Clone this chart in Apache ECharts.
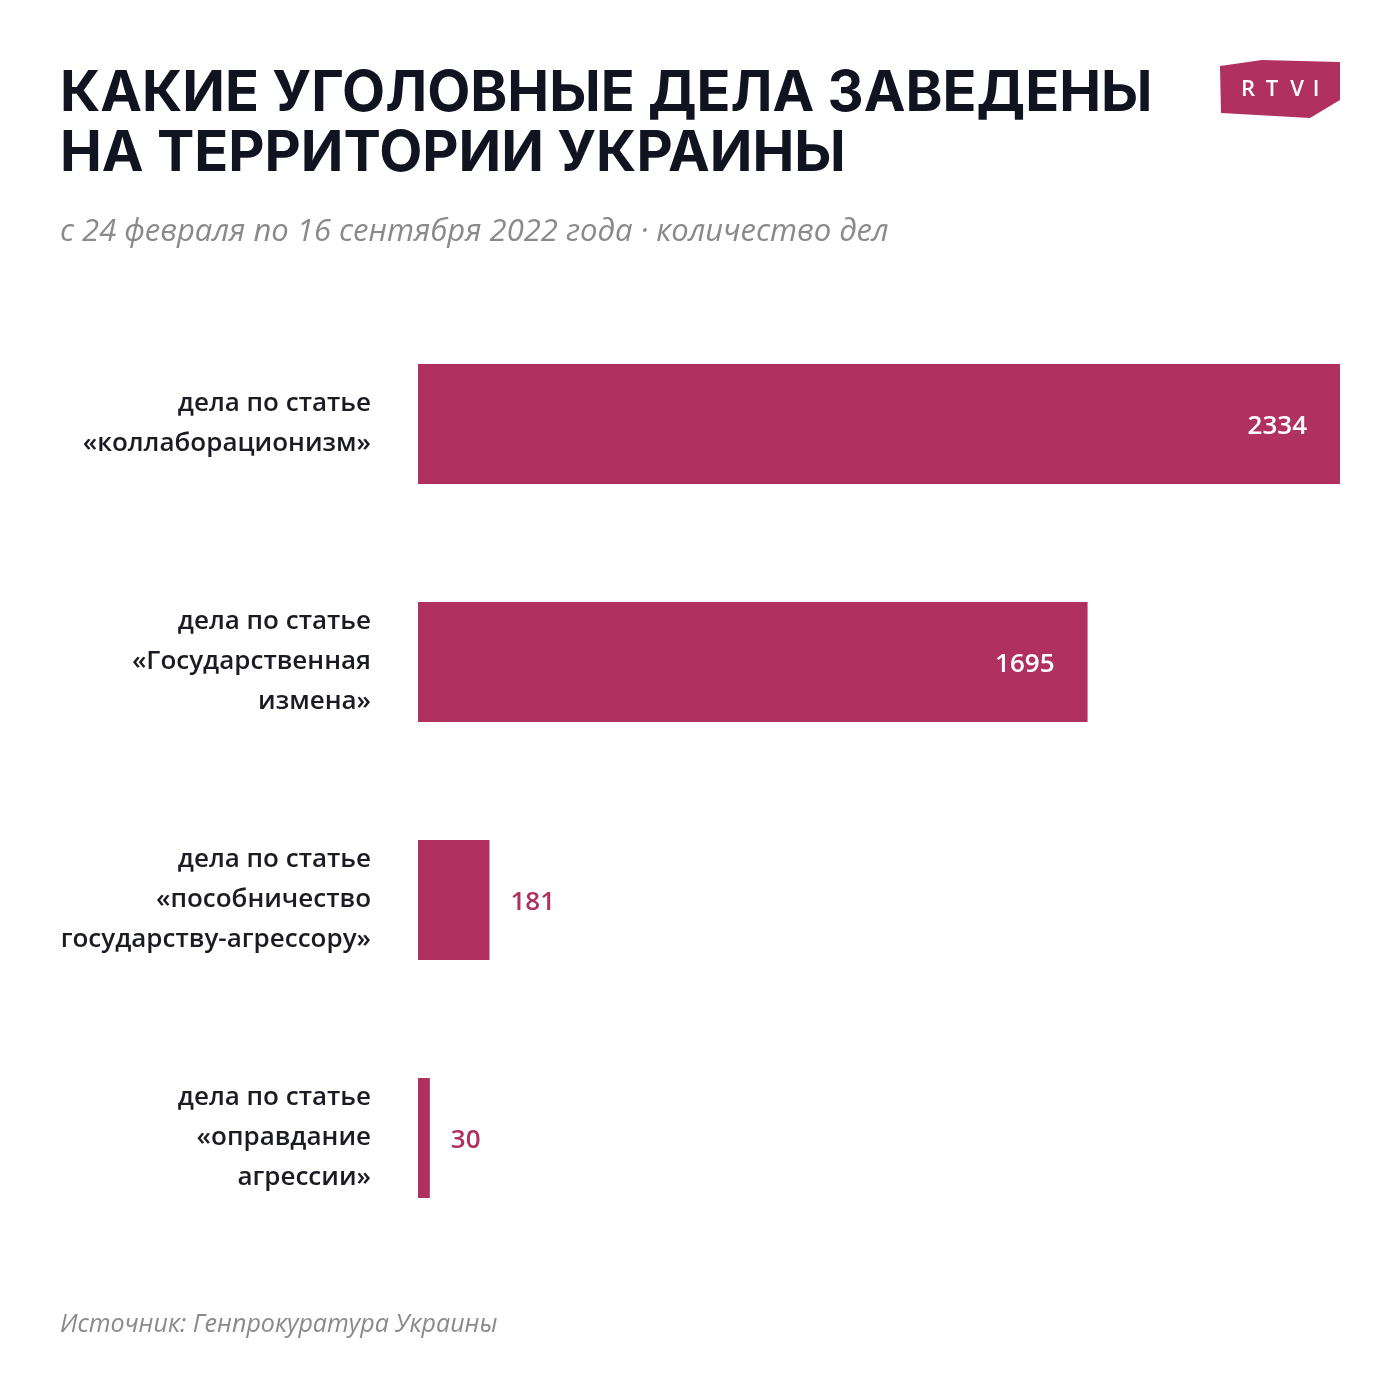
<!DOCTYPE html>
<html><head><meta charset="utf-8">
<script src="https://cdn.jsdelivr.net/npm/echarts@6/dist/echarts.min.js"></script>
<style>html,body{margin:0;padding:0;background:#fff}#c{width:1400px;height:1400px}</style>
</head><body><div id="c"></div>
<script>
const categories = [
  "дела по статье\n«коллаборационизм»",
  "дела по статье\n«Государственная\nизмена»",
  "дела по статье\n«пособничество\nгосударству-агрессору»",
  "дела по статье\n«оправдание\nагрессии»"
];
const values = [2334, 1695, 181, 30];
const insideThreshold = 1000;

const BAR = '#B03060';
const logoFont = '600 22px "Open Sans"';
const chart = echarts.init(document.getElementById('c'));
chart.setOption({
  backgroundColor: '#fff',
  animation: false,
  grid: {left: 418, right: 60, top: 305, bottom: 143},
  xAxis: {type: 'value', min: 0, max: 2334, show: false},
  yAxis: {
    type: 'category', inverse: true, data: categories,
    axisLine: {show: false}, axisTick: {show: false},
    axisLabel: {
      margin: 47, align: 'right', color: '#1b1b24',
      fontFamily: 'Open Sans', fontWeight: 600, fontSize: 26, lineHeight: 40,
      padding: [12, 0, 0, 0]
    }
  },
  series: [{
    type: 'bar', barWidth: 120,
    data: values.map(v => ({
      value: v,
      label: v > insideThreshold
        ? {position: 'insideRight', distance: 33, color: '#fff'}
        : {position: 'right', distance: 21, color: BAR}
    })),
    itemStyle: {color: BAR},
    label: {show: true, fontFamily: 'Open Sans', fontWeight: 600, fontSize: 26, offset: [0, 3]}
  }],
  graphic: [
    {type: 'text', left: 60, top: 64, style: {
      text: 'КАКИЕ УГОЛОВНЫЕ ДЕЛА ЗАВЕДЕНЫ\nНА ТЕРРИТОРИИ УКРАИНЫ',
      font: 'bold 56px Inter', fill: '#0f1420', lineHeight: 60}},
    {type: 'text', left: 60, top: 217, style: {
      text: 'с 24 февраля по 16 сентября 2022 года · количество дел',
      font: 'italic 31px "Open Sans"', fill: '#8a8a8a'}},
    {type: 'text', left: 60, top: 1312, style: {
      text: 'Источник: Генпрокуратура Украины',
      font: 'italic 25px "Open Sans"', fill: '#8a8a8a'}},
    {type: 'polygon', shape: {points: [[1220,66],[1262,60],[1340,62],[1340,100],[1310,118],[1221,113]]},
      style: {fill: BAR}},
    {type: 'text', x: 1248, y: 90, style: {text: 'R', font: logoFont, fill: '#fff', align: 'center', verticalAlign: 'middle'}},
    {type: 'text', x: 1272, y: 90, style: {text: 'T', font: logoFont, fill: '#fff', align: 'center', verticalAlign: 'middle'}},
    {type: 'text', x: 1297, y: 90, style: {text: 'V', font: logoFont, fill: '#fff', align: 'center', verticalAlign: 'middle'}},
    {type: 'text', x: 1316, y: 90, style: {text: 'I', font: logoFont, fill: '#fff', align: 'center', verticalAlign: 'middle'}}
  ]
});
</script></body></html>
